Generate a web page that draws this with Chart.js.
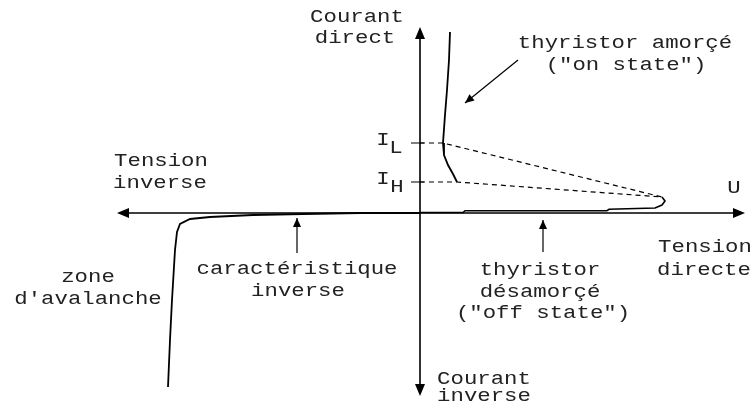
<!DOCTYPE html>
<html>
<head>
<meta charset="utf-8">
<script src="https://cdn.jsdelivr.net/npm/chart.js@4/dist/chart.umd.min.js"></script>
<style>
  body { margin: 0; background: #fff; }
  #wrap { width: 755px; height: 411px; }
</style>
</head>
<body>
<div id="wrap"><canvas id="thyristor" width="755" height="411"></canvas></div>
<script>
// U / I characteristic of a thyristor (arbitrary units, origin at axes crossing)
const onStateU = [30, 29, 27, 25, 23, 24, 28, 33, 37]
const onStateI = [181, 153, 123, 98, 70, 58, 48, 39, 31]

const offStateU = [0, 43, 45, 187, 189, 235, 242, 245, 242]
const offStateI = [0.5, 0.5, 2.3, 2.3, 3.7, 5, 8, 12, 16]

const reverseU = [0, -60, -117, -167, -210, -230, -240, -243, -245, -248, -250, -252]
const reverseI = [0, 0, -1, -2, -4, -6, -11, -19, -37, -87, -127, -174]

const latchU = [0, 23, 242]
const latchI = [70, 70, 16]
const holdU = [0, 37, 242]
const holdI = [31, 31, 16]

const axisU = [-303, 325]
const axisI = [-183, 186]

const pts = (xs, ys) => xs.map((x, i) => ({ x: x, y: ys[i] }))

const curve = (data, width, dash) => ({
  data: data,
  showLine: true,
  borderColor: '#000',
  borderWidth: width,
  borderDash: dash || [],
  pointRadius: 0,
  tension: 0,
  fill: false
})

const FONT = '18px "Courier New", "Liberation Mono", monospace'

// [text, u, i] : centre of each label
const labels = [
  ['Courant', -63, 196],
  ['direct', -65, 175],
  ['thyristor amorçé', 205, 170],
  ['("on state")', 206, 148],
  ['Tension', -259, 52],
  ['inverse', -260, 30],
  ['U', 314, 25],
  ['Tension', 285, -34],
  ['directe', 284, -57],
  ['zone', -332, -64],
  ["d'avalanche", -332, -86],
  ['caractéristique', -123, -56],
  ['inverse', -122, -78],
  ['thyristor', 120, -57],
  ['désamorçé', 120, -79],
  ['("off state")', 123, -100],
  ['Courant', 64, -166],
  ['inverse', 64, -183]
]

// pointer arrows [fromU, fromI, toU, toI]
const pointers = [
  [-123, -40, -123, -5],
  [123, -39, 123, -7],
  [98, 153, 45, 110]
]

const drawHead = (ctx, x0, y0, x1, y1, len, half) => {
  const a = Math.atan2(y1 - y0, x1 - x0)
  ctx.beginPath()
  ctx.moveTo(x1, y1)
  ctx.lineTo(x1 - len * Math.cos(a) + half * Math.sin(a), y1 - len * Math.sin(a) - half * Math.cos(a))
  ctx.lineTo(x1 - len * Math.cos(a) - half * Math.sin(a), y1 - len * Math.sin(a) + half * Math.cos(a))
  ctx.closePath()
  ctx.fill()
}

const sketch = {
  id: 'sketch',
  beforeDatasetsDraw(chart) {
    const ctx = chart.ctx
    const sx = chart.scales.x, sy = chart.scales.y
    const X = v => sx.getPixelForValue(v), Y = v => sy.getPixelForValue(v)
    ctx.save()
    ctx.strokeStyle = '#000'
    ctx.fillStyle = '#000'
    ctx.lineWidth = 1.6
    // axes
    ctx.beginPath()
    ctx.moveTo(X(axisU[0]) + 6, Y(0)); ctx.lineTo(X(axisU[1]) - 6, Y(0))
    ctx.moveTo(X(0), Y(axisI[0]) - 6); ctx.lineTo(X(0), Y(axisI[1]) + 6)
    ctx.stroke()
    drawHead(ctx, X(0), Y(0), X(axisU[0]), Y(0), 12, 5)
    drawHead(ctx, X(0), Y(0), X(axisU[1]), Y(0), 12, 5)
    drawHead(ctx, X(0), Y(0), X(0), Y(axisI[0]), 12, 5)
    drawHead(ctx, X(0), Y(0), X(0), Y(axisI[1]), 12, 5)
    // ticks for I_L and I_H
    ctx.lineWidth = 1.2
    ctx.beginPath()
    ctx.moveTo(X(-9), Y(latchI[0])); ctx.lineTo(X(4), Y(latchI[0]))
    ctx.moveTo(X(-9), Y(holdI[0])); ctx.lineTo(X(4), Y(holdI[0]))
    ctx.stroke()
    // pointer arrows
    pointers.forEach(p => {
      const x0 = X(p[0]), y0 = Y(p[1]), x1 = X(p[2]), y1 = Y(p[3])
      ctx.beginPath()
      ctx.moveTo(x0, y0); ctx.lineTo(x1, y1)
      ctx.stroke()
      drawHead(ctx, x0, y0, x1, y1, 9, 4)
    })
    ctx.restore()
  },
  afterDatasetsDraw(chart) {
    const ctx = chart.ctx
    const sx = chart.scales.x, sy = chart.scales.y
    const X = v => sx.getPixelForValue(v), Y = v => sy.getPixelForValue(v)
    ctx.save()
    ctx.fillStyle = '#222'
    ctx.font = FONT
    ctx.textAlign = 'center'
    ctx.textBaseline = 'middle'
    const put = (t, x, y) => {
      ctx.save()
      ctx.translate(x, y)
      ctx.scale(1.24, 1)
      ctx.fillText(t, 0, 0)
      ctx.restore()
    }
    labels.forEach(l => put(l[0], X(l[1]), Y(l[2])))
    // I_L / I_H with subscript
    put('I', X(-37), Y(latchI[0]) - 3)
    put('L', X(-24), Y(latchI[0]) + 5)
    put('I', X(-37), Y(holdI[0]) - 3)
    put('H', X(-23), Y(holdI[0]) + 5)
    ctx.restore()
  }
}

new Chart(document.getElementById('thyristor'), {
  type: 'scatter',
  data: {
    datasets: [
      curve(pts(onStateU, onStateI), 1.8),
      curve(pts(offStateU, offStateI), 1.6),
      curve(pts(reverseU, reverseI), 1.8),
      curve(pts(latchU, latchI), 1.2, [5, 4]),
      curve(pts(holdU, holdI), 1.2, [5, 4])
    ]
  },
  options: {
    responsive: false,
    animation: false,
    layout: { padding: 0 },
    plugins: { legend: { display: false }, tooltip: { enabled: false } },
    scales: {
      x: { type: 'linear', min: -420, max: 335, display: false },
      y: { type: 'linear', min: -198, max: 213, display: false }
    }
  },
  plugins: [sketch]
})
</script>
</body>
</html>
